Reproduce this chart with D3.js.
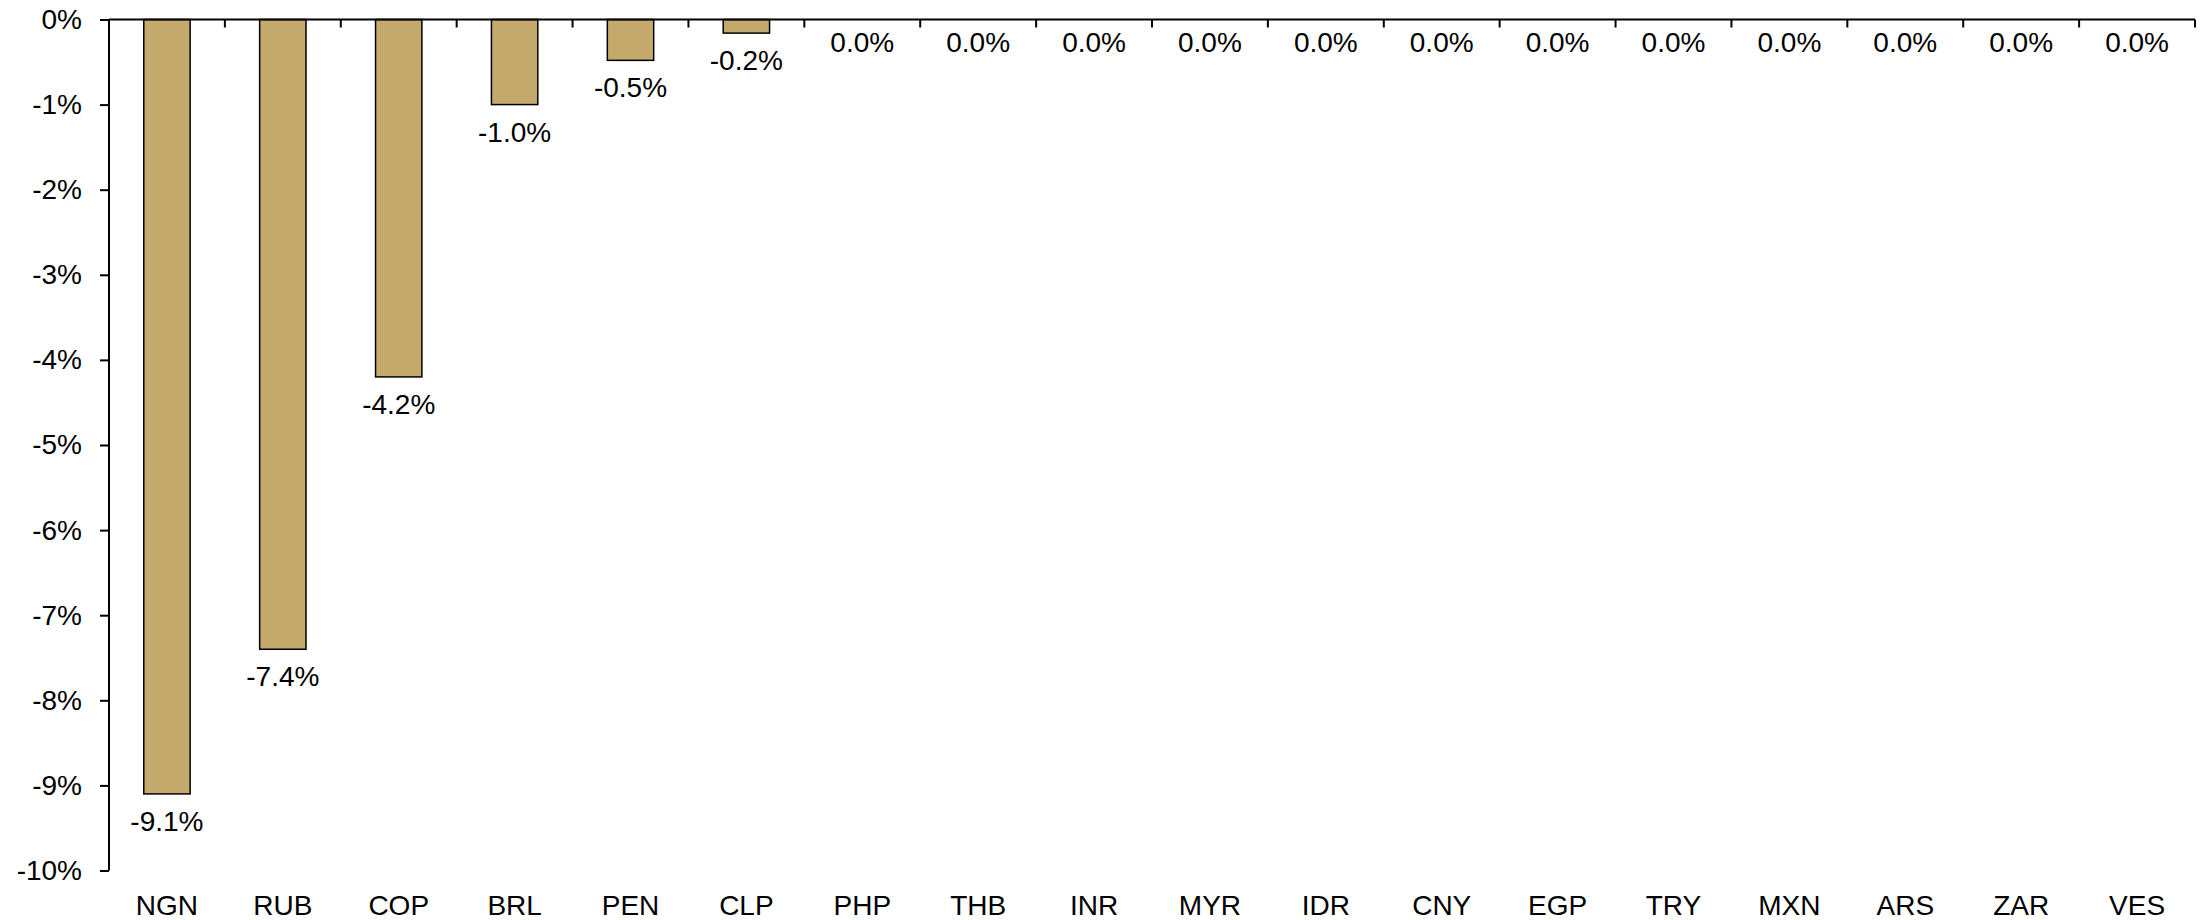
<!DOCTYPE html>
<html><head><meta charset="utf-8">
<script src="https://cdn.jsdelivr.net/npm/d3@7"></script>
<style>html,body{margin:0;padding:0;background:#fff;}svg{display:block;}</style>
</head><body>
<svg id="chart" width="2206" height="920"></svg>
<script>
const categories = ["NGN","RUB","COP","BRL","PEN","CLP","PHP","THB","INR","MYR","IDR","CNY","EGP","TRY","MXN","ARS","ZAR","VES"];
const values = [-9.1,-7.4,-4.2,-1.0,-0.48,-0.16,0,0,0,0,0,0,0,0,0,0,0,0];
const yTicks = [0,-1,-2,-3,-4,-5,-6,-7,-8,-9,-10];

(function () {
const svg = d3.select("#chart");
const mLeft = 109, mRight = 2195, mTop = 19.5, mBottom = 870.5;
const font = "'Liberation Sans', Arial, sans-serif";

const x = d3.scaleBand().domain(categories).range([mLeft, mRight]).padding(0);
const y = d3.scaleLinear().domain([0, -10]).range([mTop, mBottom]);

// bars
const bw = x.bandwidth() * 0.4;
svg.append("g").selectAll("rect").data(categories).join("rect")
  .attr("x", d => x(d) + x.bandwidth()/2 - bw/2)
  .attr("y", y(0))
  .attr("width", bw)
  .attr("height", (d,i) => y(values[i]) - y(0))
  .attr("fill", "#C3A96B")
  .attr("stroke", "#000")
  .attr("stroke-width", 1.5)
  .attr("display", (d,i) => values[i] === 0 ? "none" : null);

// value labels
svg.append("g").selectAll("text").data(categories).join("text")
  .attr("x", d => x(d) + x.bandwidth()/2)
  .attr("y", (d,i) => y(values[i]) + (values[i] < 0 ? 37 : 32))
  .attr("text-anchor", "middle")
  .attr("font-family", font).attr("font-size", 28).attr("fill", "#000")
  .text((d,i) => values[i].toFixed(1) + "%");

// y axis
const yAxis = d3.axisLeft(y).tickValues(yTicks).tickSize(9).tickPadding(18)
  .tickFormat(d => String(Math.round(d)) + "%");
const gy = svg.append("g").attr("transform", `translate(${mLeft},0)`).call(yAxis);
gy.select(".domain").attr("stroke", "#000").attr("stroke-width", 2)
  .attr("d", `M0,${mTop}V${mBottom}`);
gy.selectAll(".tick line").attr("stroke", "#000").attr("stroke-width", 2);
gy.selectAll(".tick text").attr("font-family", font).attr("font-size", 28).attr("fill", "#000");

// x axis (at zero, ticks between categories pointing down)
const boundaries = categories.map(c => x(c)).concat([mRight]);
const gx = svg.append("g");
gx.append("line").attr("x1", mLeft).attr("x2", mRight).attr("y1", y(0)).attr("y2", y(0))
  .attr("stroke", "#000").attr("stroke-width", 2);
gx.selectAll("line.t").data(boundaries.slice(1)).join("line").attr("class","t")
  .attr("x1", d => d).attr("x2", d => d).attr("y1", y(0)).attr("y2", y(0) + 8)
  .attr("stroke", "#000").attr("stroke-width", 2);

// category labels
svg.append("g").selectAll("text").data(categories).join("text")
  .attr("x", d => x(d) + x.bandwidth()/2)
  .attr("y", 915)
  .attr("text-anchor", "middle")
  .attr("font-family", font).attr("font-size", 28).attr("fill", "#000")
  .text(d => d);
})();
</script>
</body></html>
